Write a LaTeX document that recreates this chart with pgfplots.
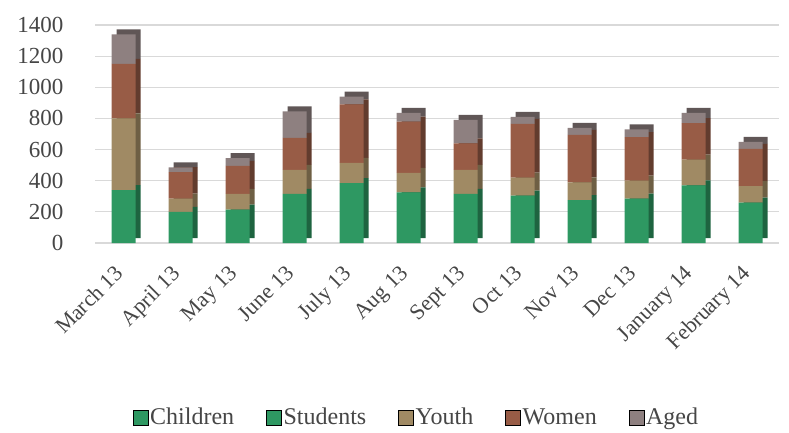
\documentclass[border=0pt]{standalone}
\usepackage{pgfplots}
\pgfplotsset{compat=1.18}
\usepackage{pgfplotstable}
\usepackage{fontspec}
\setmainfont{Liberation Serif}

\definecolor{cgreen}{RGB}{46,152,98}
\definecolor{ctan}{RGB}{160,138,100}
\definecolor{cbrown}{RGB}{152,92,70}
\definecolor{cgray}{RGB}{142,128,128}
\definecolor{dgreen}{RGB}{30,100,64}
\definecolor{dtan}{RGB}{110,95,68}
\definecolor{dbrown}{RGB}{98,60,46}
\definecolor{dgray}{RGB}{96,86,86}
\definecolor{txt}{RGB}{70,70,70}
\definecolor{gridc}{RGB}{217,217,217}

% monthly counts per group (Students empty)
\pgfplotstableread{
x C S Y W A
0 340 0 460 350 190
1 200 0 85 170 30
2 215 0 100 180 50
3 315 0 155 205 170
4 385 0 130 375 50
5 325 0 125 330 55
6 315 0 155 170 150
7 305 0 115 345 45
8 275 0 115 305 45
9 285 0 115 280 50
10 370 0 165 235 65
11 260 0 105 240 45
}\visits

\pgfplotsset{
  frame/.style={scale only axis, width=684pt, height=218pt,
    xmin=-0.5, xmax=11.5, ymin=0, ymax=1400, anchor=south west},
  bars/.style={frame, hide axis, ybar stacked, bar width=24pt},
}

\begin{document}
\begin{tikzpicture}
\begin{axis}[frame, at={(95pt,189pt)},
  axis line style={draw=none}, major tick length=0pt,
  ymajorgrids, grid style={gridc, line width=1.2pt},
  ytick={0,200,...,1400}, xtick={0,...,11},
  xticklabels={March 13,April 13,May 13,June 13,July 13,Aug 13,Sept 13,Oct 13,Nov 13,Dec 13,January 14,February 14},
  tick label style={text=txt},
  yticklabel style={font=\fontsize{23}{23}\selectfont, xshift=-28pt},
  xticklabel style={font=\fontsize{22}{22}\selectfont, yshift=-16pt, xshift=-10pt, rotate=45, anchor=north east},
  /pgf/number format/assume math mode=true,
  /pgf/number format/1000 sep={},
  legend image code/.code={\path[#1] (-4pt,-7.5pt) rectangle (11pt,7.5pt);},
  legend style={at={(0.47,-0.8)}, anchor=center, legend columns=-1, draw=none,
    font=\fontsize{24}{24}\selectfont, text=txt,
    /tikz/every even column/.append style={column sep=30pt}},
]
\addlegendimage{fill=cgreen}\addlegendentry{Children}
\addlegendimage{fill=cgreen}\addlegendentry{Students}
\addlegendimage{fill=ctan}\addlegendentry{Youth}
\addlegendimage{fill=cbrown}\addlegendentry{Women}
\addlegendimage{fill=cgray}\addlegendentry{Aged}
\end{axis}

% back faces, offset for depth
\begin{axis}[bars, at={(100pt,194pt)}]
\addplot[fill=dgreen, draw=none] table[x=x, y=C] {\visits};
\addplot[fill=dgreen, draw=none] table[x=x, y=S] {\visits};
\addplot[fill=dtan, draw=none] table[x=x, y=Y] {\visits};
\addplot[fill=dbrown, draw=none] table[x=x, y=W] {\visits};
\addplot[fill=dgray, draw=none] table[x=x, y=A] {\visits};
\end{axis}

% front faces
\begin{axis}[bars, at={(95pt,189pt)}]
\addplot[fill=cgreen, draw=none] table[x=x, y=C] {\visits};
\addplot[fill=cgreen, draw=none] table[x=x, y=S] {\visits};
\addplot[fill=ctan, draw=none] table[x=x, y=Y] {\visits};
\addplot[fill=cbrown, draw=none] table[x=x, y=W] {\visits};
\addplot[fill=cgray, draw=none] table[x=x, y=A] {\visits};
\end{axis}

\pgfresetboundingbox
\path (0pt,0pt) rectangle (789pt,432pt);
\end{tikzpicture}
\end{document}
